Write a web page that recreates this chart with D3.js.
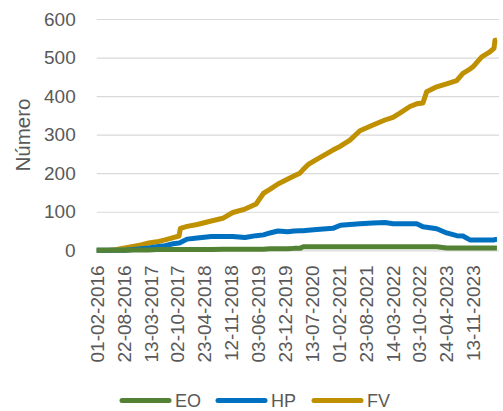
<!DOCTYPE html>
<html>
<head>
<meta charset="utf-8">
<script src="https://cdn.jsdelivr.net/npm/d3@7/dist/d3.min.js"></script>
<style>
  html, body { margin: 0; padding: 0; background: #fff; }
  svg { display: block; }
  text { font-family: "Liberation Sans", Arial, sans-serif; fill: #595959; }
</style>
</head>
<body>
<svg id="chart" width="503" height="411"></svg>
<script>
// ---- data ----
const dates = [
  "2016-02-01","2016-05-01","2016-07-01","2016-09-01","2016-11-01",
  "2017-01-01","2017-03-01","2017-05-01","2017-07-01","2017-09-01",
  "2017-10-15","2017-10-25","2017-12-15","2018-03-01","2018-06-15",
  "2018-09-10","2018-11-25","2019-02-25","2019-05-20","2019-07-15",
  "2019-09-01","2019-11-01","2020-01-15","2020-03-01","2020-04-15",
  "2020-05-10","2020-06-15","2020-08-20","2020-11-01","2020-12-20",
  "2021-02-15","2021-04-28","2021-07-12","2021-10-19","2022-01-17",
  "2022-03-19","2022-05-10","2022-07-25","2022-09-14","2022-10-31",
  "2022-11-28","2023-02-12","2023-04-28","2023-07-13","2023-08-29",
  "2023-10-21","2023-11-13","2024-01-18","2024-03-20","2024-04-20",
  "2024-04-27","2024-05-12"
];
const fvValues = [
  0,0,2,6,10, 14,19,22,27,33, 37,57,62,67,76, 83,98,107,120,148,
  158,172,185,193,200, 210,222,236,250,260, 270,286,310,325,338,
  345,356,373,380,382, 411,424,432,440,459, 470,476,502,515,524, 545,545
];
const hpValues = [
  0,0,0,0,2, 4,6,9,12,17, 19,20,29,32,36, 36,36,33,38,40,
  45,50,48,50,51, 51,52,54,56,57, 65,67,69,71,72, 69,69,69,69,61,
  60,56,45,38,37, 27,27,27,27,27, 28,28
];
const eoValues = [
  0,0,0,0,1, 1,1,2,2,2, 2,2,2,2,2, 3,3,3,3,3,
  4,4,4,5,5, 9,9,9,9,9, 9,9,9,9,9, 9,9,9,9,9,
  9,9,6,6,6, 6,6,6,6,6, 6,6
];
const seriesNames = ["EO", "HP", "FV"];
const seriesColors = ["#548235", "#0070C0", "#BF9000"];
const yTicks = [0, 100, 200, 300, 400, 500, 600];
const xTickLabels = [
  "01-02-2016","22-08-2016","13-03-2017","02-10-2017","23-04-2018",
  "12-11-2018","03-06-2019","23-12-2019","13-07-2020","01-02-2021",
  "23-08-2021","14-03-2022","03-10-2022","24-04-2023","13-11-2023"
];
const yTitle = "Número";

// ---- drawing ----
(function () {
const parse = d3.timeParse("%Y-%m-%d");
const parseLabel = d3.timeParse("%d-%m-%Y");
const fmt = d3.timeFormat("%d-%m-%Y");
const svg = d3.select("#chart");
svg.append("rect").attr("width", 503).attr("height", 411).attr("fill", "#fff");

const pLeft = 96.7, pRight = 498, pTop = 19, pBottom = 250.3;
const x = d3.scaleTime()
  .domain([parse("2016-02-01"), parse("2024-05-20")])
  .range([pLeft, pRight]);
const y = d3.scaleLinear().domain([0, 600]).range([pBottom, pTop]);

// y axis with gridlines
const yAxis = svg.append("g")
  .attr("transform", `translate(${pLeft},0)`)
  .call(d3.axisLeft(y).tickValues(yTicks).tickSize(-(pRight + 1 - pLeft)).tickPadding(21));
yAxis.select(".domain").remove();
yAxis.selectAll(".tick line").attr("stroke", "#d9d9d9").attr("stroke-width", 1.2);
yAxis.selectAll(".tick text")
  .style("font-family", '"Liberation Sans", Arial, sans-serif')
  .attr("font-size", 19).attr("fill", "#595959");

// x axis labels
const xAxis = svg.append("g")
  .attr("transform", `translate(0,${pBottom})`)
  .call(d3.axisBottom(x).tickValues(xTickLabels.map(parseLabel)).tickFormat(fmt).tickSize(0));
xAxis.select(".domain").remove();
xAxis.selectAll(".tick text")
  .style("font-family", '"Liberation Sans", Arial, sans-serif')
  .attr("font-size", 19).attr("fill", "#595959")
  .attr("text-anchor", "end")
  .attr("transform", "rotate(-90)")
  .attr("x", -15).attr("y", 0).attr("dy", "0.35em");

// axis title
svg.append("text")
  .attr("transform", "translate(23,135) rotate(-90)")
  .attr("text-anchor", "middle").attr("dy", "0.35em")
  .attr("font-size", 20.5)
  .text(yTitle);

// lines (FV drawn first, EO on top)
const valuesBySeries = [eoValues, hpValues, fvValues];
const line = d3.line()
  .x(d => x(d.date)).y(d => y(d.v));
[2, 1, 0].forEach(i => {
  const pts = dates.map((d, k) => ({ date: parse(d), v: valuesBySeries[i][k] }));
  svg.append("path")
    .datum(pts)
    .attr("fill", "none")
    .attr("stroke", seriesColors[i])
    .attr("stroke-width", 5)
    .attr("stroke-linejoin", "round")
    .attr("stroke-linecap", "butt")
    .attr("d", line);
});

// legend
const legend = svg.append("g").attr("transform", "translate(120,400.5)");
seriesNames.forEach((name, i) => {
  const g = legend.append("g").attr("transform", `translate(${i * 96},0)`);
  g.append("line").attr("x1", 2).attr("x2", 49).attr("y1", 0).attr("y2", 0)
    .attr("stroke", seriesColors[i]).attr("stroke-width", 5).attr("stroke-linecap", "round");
  g.append("text").attr("x", 55).attr("y", 0).attr("dy", "0.35em")
    .attr("font-size", 18).text(name);
});
})();
</script>
</body>
</html>
